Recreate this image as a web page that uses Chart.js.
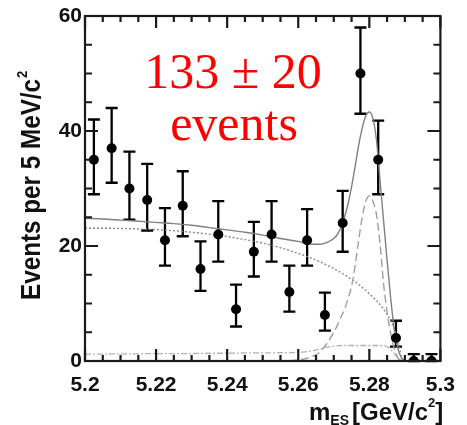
<!DOCTYPE html>
<html><head><meta charset="utf-8">
<script src="https://cdn.jsdelivr.net/npm/chart.js@4.4.1/dist/chart.umd.min.js"></script>
<style>html,body{margin:0;padding:0;background:#fff}</style>
</head><body>
<canvas id="c" width="467" height="425"></canvas>
<script>
// ---- data ----
const binCenters = [5.2025, 5.2075, 5.2125, 5.2175, 5.2225, 5.2275, 5.2325, 5.2375, 5.2425, 5.2475,
                    5.2525, 5.2575, 5.2625, 5.2675, 5.2725, 5.2775, 5.2825, 5.2875, 5.2925, 5.2975];
const counts  = [35, 37, 30, 28, 21, 27, 16, 22, 9, 19, 22, 12, 21, 8, 24, 50, 35, 4, 0, 0];
const errHigh = [42, 44, 36.4, 34.3, 26.6, 33, 20.8, 27.8, 13.3, 24.2, 27.8, 16.6, 26.4, 11.9, 29.6, 58, 41.8, 7, 1.2, 1.2];
const errLow  = [29, 31, 24.6, 22.7, 16.6, 21.7, 12.2, 17.3, 6, 14.7, 17.3, 8.6, 16.6, 5.3, 19, 43, 29, 2.5, 0, 0];

const curveX = [5.200, 5.205, 5.210, 5.215, 5.220, 5.225, 5.230, 5.235, 5.240, 5.245, 5.250, 5.255, 5.260,
                5.262, 5.264, 5.266, 5.268,
                5.270, 5.271, 5.272, 5.273, 5.274, 5.275, 5.276, 5.277, 5.278, 5.279, 5.280,
                5.281, 5.282, 5.283, 5.284, 5.285, 5.286, 5.287, 5.288, 5.289, 5.290, 5.300];
const totalFit = [24.8, 24.7, 24.5, 24.3, 24.1, 23.9, 23.6, 23.2, 22.8, 22.4, 21.9, 21.3, 20.8,
                  20.5, 20.3, 20.3, 20.6,
                  21.3, 22.0, 23.2, 25.0, 27.3, 30.3, 33.8, 37.5, 40.5, 42.6, 43.3,
                  42.2, 38.5, 31.5, 24.5, 17.5, 11.0, 5.5, 2.2, 0.6, 0, 0];
const bkgFit = [23.1, 23.1, 23.05, 22.95, 22.85, 22.65, 22.4, 22.05, 21.65, 21.1, 20.5, 19.7, 18.7,
                18.3, 17.8, 17.3, 16.7,
                16.1, 15.7, 15.4, 15.0, 14.6, 14.2, 13.8, 13.3, 12.8, 12.3, 11.7,
                11.1, 10.5, 9.8, 9.0, 8.1, 7.0, 5.6, 3.6, 0.8, 0, 0];
const signalFit = [0, 0, 0, 0, 0, 0, 0, 0, 0, 0, 0, 0, 0.2,
                   0.4, 0.8, 1.5, 3.0,
                   5.0, 6.2, 7.6, 9.0, 10.8, 13.0, 16.5, 21.0, 25.0, 27.8, 28.7,
                   27.8, 25.5, 20.5, 13.5, 8.5, 4.8, 2.2, 0.6, 0, 0, 0];
const peakingFit = [1.2, 1.2, 1.25, 1.25, 1.3, 1.3, 1.3, 1.35, 1.35, 1.4, 1.4, 1.45, 1.5,
                    1.6, 1.8, 2.1, 2.4,
                    2.6, 2.65, 2.7, 2.7, 2.7, 2.7, 2.7, 2.7, 2.7, 2.7, 2.7,
                    2.7, 2.7, 2.7, 2.7, 2.5, 2.0, 1.3, 0.6, 0.1, 0, 0];

const xTickLabels = ['5.2', '5.22', '5.24', '5.26', '5.28', '5.3'];
const yTickLabels = ['0', '20', '40', '60'];
const yTitle = 'Events per 5 MeV/c';
const annotation = ['133 \u00b1 20', 'events'];

// ---- helpers ----
const pts = (xs, ys) => xs.map((v, i) => ({x: v, y: ys[i]}));
const curve = (ys, color, dash, width) => ({
  data: pts(curveX, ys), borderColor: color, borderDash: dash, borderWidth: width,
  pointRadius: 0, fill: false, cubicInterpolationMode: 'monotone', showLine: true
});

const errPlugin = {
  id: 'errbars',
  beforeDatasetsDraw(chart) {
    const {ctx, scales: {x, y}} = chart;
    ctx.save();
    ctx.strokeStyle = '#000'; ctx.lineWidth = 2.3;
    binCenters.forEach((c, i) => {
      const px = x.getPixelForValue(c);
      const yh = y.getPixelForValue(errHigh[i]);
      const yl = y.getPixelForValue(errLow[i]);
      ctx.beginPath();
      ctx.moveTo(px, yh); ctx.lineTo(px, yl);
      ctx.moveTo(px - 6, yh); ctx.lineTo(px + 6, yh);
      ctx.moveTo(px - 6, yl); ctx.lineTo(px + 6, yl);
      ctx.stroke();
    });
    ctx.restore();
  }
};

const framePlugin = {
  id: 'frame',
  afterDraw(chart) {
    const {ctx, chartArea: a, scales: {x, y}} = chart;
    ctx.save();
    ctx.strokeStyle = '#1a1a1a'; ctx.lineWidth = 2.2;
    ctx.strokeRect(a.left, a.top, a.right - a.left, a.bottom - a.top);
    ctx.beginPath();
    for (let k = 0; k <= 20; k++) {
      const px = x.getPixelForValue(5.2 + k * 0.005);
      const L = (k % 4 === 0) ? 12 : 6;
      ctx.moveTo(px, a.bottom); ctx.lineTo(px, a.bottom - L);
      ctx.moveTo(px, a.top); ctx.lineTo(px, a.top + L);
    }
    for (let k = 0; k <= 12; k++) {
      const py = y.getPixelForValue(k * 5);
      const L = (k % 4 === 0) ? 13 : 7;
      ctx.moveTo(a.left, py); ctx.lineTo(a.left + L, py);
      ctx.moveTo(a.right, py); ctx.lineTo(a.right - L, py);
    }
    ctx.stroke();

    // y axis title (rotated)
    ctx.fillStyle = '#111';
    ctx.save();
    ctx.translate(40, 300);
    ctx.rotate(-Math.PI / 2);
    ctx.font = "bold 28px 'Liberation Sans Narrow', 'Liberation Sans', sans-serif";
    const w1 = ctx.measureText(yTitle).width;
    ctx.font = "bold 15px 'Liberation Sans Narrow', 'Liberation Sans', sans-serif";
    const w2 = ctx.measureText('2').width;
    const s = 230 / (w1 + w2 + 2);
    ctx.scale(s, 1);
    ctx.textAlign = 'left'; ctx.textBaseline = 'alphabetic';
    ctx.font = "bold 28px 'Liberation Sans Narrow', 'Liberation Sans', sans-serif";
    ctx.fillText(yTitle, 0, 0);
    ctx.font = "bold 15px 'Liberation Sans Narrow', 'Liberation Sans', sans-serif";
    ctx.fillText('2', w1 + 1, -13);
    ctx.restore();

    // x axis title with subscript / superscript
    ctx.textAlign = 'left'; ctx.textBaseline = 'alphabetic';
    let cx = 309;
    ctx.font = "bold 24px 'Liberation Sans', sans-serif";
    ctx.fillText('m', cx, 420); cx += ctx.measureText('m').width;
    ctx.font = "bold 14px 'Liberation Sans', sans-serif";
    ctx.fillText('ES', cx, 425); cx += ctx.measureText('ES').width + 3;
    ctx.font = "bold 24px 'Liberation Sans', sans-serif";
    ctx.fillText('[GeV/c', cx, 420); cx += ctx.measureText('[GeV/c').width;
    ctx.font = "bold 13px 'Liberation Sans', sans-serif";
    ctx.fillText('2', cx, 407); cx += ctx.measureText('2').width;
    ctx.font = "bold 24px 'Liberation Sans', sans-serif";
    ctx.fillText(']', cx, 420);

    // red annotation
    ctx.fillStyle = '#ff0000';
    ctx.textAlign = 'center';
    ctx.font = "50px 'Liberation Serif', serif";
    ctx.fillText(annotation[0], 233, 88);
    ctx.fillText(annotation[1], 234, 140);
    ctx.restore();
  }
};

new Chart(document.getElementById('c'), {
  type: 'line',
  data: {
    datasets: [
      { data: pts(binCenters, counts), showLine: false, pointRadius: 5, pointHoverRadius: 5,
        pointBackgroundColor: '#000', pointBorderWidth: 0, borderColor: '#000' },
      curve(totalFit, '#808080', [], 1.4),
      curve(signalFit, '#a0a0a0', [8, 4], 1.4),
      curve(bkgFit, '#8a8a8a', [2, 2], 1.4),
      curve(peakingFit, '#b4b4b4', [6, 2, 2, 2], 1.3)
    ]
  },
  options: {
    responsive: false, animation: false, devicePixelRatio: 1,
    layout: { padding: { left: 0, right: 17, top: 16, bottom: 0 } },
    plugins: { legend: { display: false }, tooltip: { enabled: false } },
    scales: {
      x: {
        type: 'linear', min: 5.2, max: 5.3,
        grid: { display: false, drawTicks: false }, border: { display: false },
        ticks: { stepSize: 0.02, autoSkip: false, maxRotation: 0, padding: 12, color: '#111',
                 font: { family: 'Liberation Sans', weight: 'bold', size: 21 },
                 callback: (v, i) => xTickLabels[i] },
        afterFit: s => { s.height = 64; }
      },
      y: {
        min: 0, max: 60,
        grid: { display: false, drawTicks: false }, border: { display: false },
        ticks: { stepSize: 20, padding: 3, color: '#111',
                 font: { family: 'Liberation Sans', weight: 'bold', size: 21 },
                 callback: (v, i) => yTickLabels[i] },
        afterFit: s => { s.width = 85; }
      }
    }
  },
  plugins: [errPlugin, framePlugin]
});
</script>
</body></html>
